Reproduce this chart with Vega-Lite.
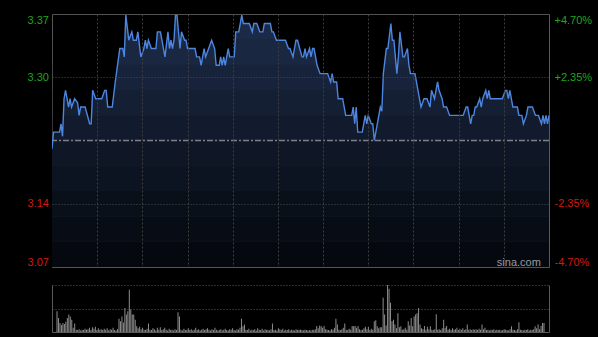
{
  "$schema": "https://vega.github.io/schema/vega-lite/v6.json",
  "background": "#000000",
  "padding": {"left": 26, "top": 13, "right": 5, "bottom": 5},
  "config": {
    "axis": {"labelFont": "Liberation Sans", "labelFontSize": 11},
    "text": {"font": "Liberation Sans"}
  },
  "datasets": {
    "price": [
      {"t":0,"p":3.21},{"t":1,"p":3.23},{"t":5,"p":3.23},{"t":6,"p":3.24},{"t":7,"p":3.225},{"t":8,"p":3.27},{"t":9,"p":3.28},{"t":11,"p":3.26},{"t":12,"p":3.27},{"t":13,"p":3.26},{"t":15,"p":3.27},{"t":17,"p":3.265},{"t":18,"p":3.25},{"t":19,"p":3.26},{"t":22,"p":3.26},{"t":25,"p":3.24},{"t":26,"p":3.24},{"t":27,"p":3.28},{"t":29,"p":3.27},{"t":33,"p":3.27},{"t":35,"p":3.28},{"t":36,"p":3.28},{"t":37,"p":3.26},{"t":40,"p":3.26},{"t":42,"p":3.29},{"t":45,"p":3.33},{"t":47,"p":3.33},{"t":48,"p":3.32},{"t":49,"p":3.37},{"t":51,"p":3.34},{"t":53,"p":3.35},{"t":54,"p":3.34},{"t":56,"p":3.34},{"t":57,"p":3.35},{"t":59,"p":3.32},{"t":61,"p":3.33},{"t":62,"p":3.34},{"t":63,"p":3.33},{"t":64,"p":3.34},{"t":66,"p":3.33},{"t":69,"p":3.33},{"t":70,"p":3.35},{"t":72,"p":3.35},{"t":75,"p":3.32},{"t":77,"p":3.35},{"t":78,"p":3.33},{"t":79,"p":3.34},{"t":80,"p":3.33},{"t":81,"p":3.34},{"t":82,"p":3.37},{"t":83,"p":3.37},{"t":85,"p":3.33},{"t":86,"p":3.35},{"t":88,"p":3.34},{"t":89,"p":3.34},{"t":90,"p":3.33},{"t":95,"p":3.33},{"t":96,"p":3.32},{"t":98,"p":3.32},{"t":99,"p":3.31},{"t":101,"p":3.33},{"t":102,"p":3.32},{"t":104,"p":3.33},{"t":106,"p":3.34},{"t":108,"p":3.33},{"t":109,"p":3.31},{"t":111,"p":3.31},{"t":112,"p":3.32},{"t":113,"p":3.31},{"t":114,"p":3.32},{"t":115,"p":3.31},{"t":117,"p":3.33},{"t":118,"p":3.32},{"t":121,"p":3.32},{"t":122,"p":3.35},{"t":124,"p":3.35},{"t":126,"p":3.37},{"t":127,"p":3.36},{"t":131,"p":3.36},{"t":133,"p":3.35},{"t":134,"p":3.36},{"t":136,"p":3.36},{"t":138,"p":3.35},{"t":140,"p":3.35},{"t":141,"p":3.36},{"t":145,"p":3.36},{"t":146,"p":3.35},{"t":147,"p":3.35},{"t":149,"p":3.34},{"t":155,"p":3.34},{"t":157,"p":3.33},{"t":158,"p":3.33},{"t":160,"p":3.32},{"t":162,"p":3.34},{"t":163,"p":3.34},{"t":166,"p":3.32},{"t":167,"p":3.32},{"t":168,"p":3.33},{"t":169,"p":3.32},{"t":171,"p":3.33},{"t":172,"p":3.32},{"t":173,"p":3.33},{"t":174,"p":3.33},{"t":176,"p":3.31},{"t":178,"p":3.30},{"t":183,"p":3.30},{"t":185,"p":3.29},{"t":186,"p":3.30},{"t":187,"p":3.29},{"t":189,"p":3.29},{"t":190,"p":3.27},{"t":193,"p":3.27},{"t":195,"p":3.25},{"t":199,"p":3.25},{"t":200,"p":3.26},{"t":201,"p":3.24},{"t":202,"p":3.26},{"t":203,"p":3.23},{"t":206,"p":3.23},{"t":208,"p":3.25},{"t":209,"p":3.24},{"t":210,"p":3.25},{"t":212,"p":3.24},{"t":213,"p":3.24},{"t":214,"p":3.22},{"t":216,"p":3.24},{"t":218,"p":3.26},{"t":219,"p":3.255},{"t":220,"p":3.30},{"t":222,"p":3.33},{"t":223,"p":3.33},{"t":225,"p":3.36},{"t":226,"p":3.34},{"t":227,"p":3.34},{"t":229,"p":3.30},{"t":230,"p":3.32},{"t":231,"p":3.35},{"t":233,"p":3.32},{"t":234,"p":3.32},{"t":236,"p":3.33},{"t":237,"p":3.31},{"t":238,"p":3.30},{"t":241,"p":3.30},{"t":244,"p":3.27},{"t":245,"p":3.26},{"t":247,"p":3.27},{"t":249,"p":3.27},{"t":251,"p":3.26},{"t":252,"p":3.28},{"t":254,"p":3.27},{"t":256,"p":3.29},{"t":257,"p":3.28},{"t":259,"p":3.27},{"t":260,"p":3.26},{"t":262,"p":3.26},{"t":264,"p":3.25},{"t":273,"p":3.25},{"t":275,"p":3.26},{"t":276,"p":3.26},{"t":278,"p":3.24},{"t":279,"p":3.25},{"t":280,"p":3.25},{"t":281,"p":3.26},{"t":282,"p":3.26},{"t":284,"p":3.27},{"t":285,"p":3.26},{"t":286,"p":3.27},{"t":288,"p":3.28},{"t":289,"p":3.27},{"t":290,"p":3.28},{"t":291,"p":3.27},{"t":299,"p":3.27},{"t":301,"p":3.28},{"t":302,"p":3.28},{"t":303,"p":3.27},{"t":304,"p":3.28},{"t":306,"p":3.26},{"t":309,"p":3.26},{"t":310,"p":3.25},{"t":312,"p":3.25},{"t":313,"p":3.24},{"t":315,"p":3.25},{"t":316,"p":3.26},{"t":319,"p":3.26},{"t":321,"p":3.25},{"t":323,"p":3.25},{"t":325,"p":3.24},{"t":326,"p":3.25},{"t":327,"p":3.24},{"t":328,"p":3.25},{"t":329,"p":3.24},{"t":330,"p":3.25}
    ],
    "vol": [
      {"t":0,"v":44},{"t":1,"v":30},{"t":2,"v":19},{"t":3,"v":15},{"t":4,"v":19},{"t":5,"v":17},{"t":6,"v":22},{"t":7,"v":30},{"t":8,"v":37},{"t":9,"v":33},{"t":10,"v":26},{"t":11,"v":9},{"t":12,"v":18},{"t":13,"v":5},{"t":14,"v":4},{"t":15,"v":6},{"t":16,"v":3},{"t":17,"v":5},{"t":18,"v":4},{"t":19,"v":7},{"t":20,"v":5},{"t":21,"v":6},{"t":22,"v":9},{"t":23,"v":4},{"t":24,"v":10},{"t":25,"v":7},{"t":26,"v":11},{"t":27,"v":4},{"t":28,"v":8},{"t":29,"v":5},{"t":30,"v":6},{"t":31,"v":4},{"t":32,"v":7},{"t":33,"v":5},{"t":34,"v":8},{"t":35,"v":3},{"t":36,"v":6},{"t":37,"v":5},{"t":38,"v":9},{"t":39,"v":4},{"t":40,"v":3},{"t":41,"v":6},{"t":42,"v":28},{"t":43,"v":23},{"t":44,"v":33},{"t":45,"v":20},{"t":46,"v":51},{"t":47,"v":37},{"t":48,"v":44},{"t":49,"v":90},{"t":50,"v":48},{"t":51,"v":37},{"t":52,"v":37},{"t":53,"v":26},{"t":54,"v":12},{"t":55,"v":8},{"t":56,"v":11},{"t":57,"v":6},{"t":58,"v":9},{"t":59,"v":5},{"t":60,"v":4},{"t":61,"v":7},{"t":62,"v":18},{"t":63,"v":5},{"t":64,"v":4},{"t":65,"v":8},{"t":66,"v":6},{"t":67,"v":3},{"t":68,"v":9},{"t":69,"v":5},{"t":70,"v":10},{"t":71,"v":4},{"t":72,"v":6},{"t":73,"v":9},{"t":74,"v":5},{"t":75,"v":3},{"t":76,"v":7},{"t":77,"v":4},{"t":78,"v":5},{"t":79,"v":3},{"t":80,"v":6},{"t":81,"v":4},{"t":82,"v":42},{"t":83,"v":33},{"t":84,"v":5},{"t":85,"v":3},{"t":86,"v":7},{"t":87,"v":4},{"t":88,"v":5},{"t":89,"v":8},{"t":90,"v":4},{"t":91,"v":6},{"t":92,"v":3},{"t":93,"v":5},{"t":94,"v":9},{"t":95,"v":4},{"t":96,"v":6},{"t":97,"v":3},{"t":98,"v":5},{"t":99,"v":7},{"t":100,"v":4},{"t":101,"v":6},{"t":102,"v":8},{"t":103,"v":5},{"t":104,"v":3},{"t":105,"v":6},{"t":106,"v":4},{"t":107,"v":9},{"t":108,"v":5},{"t":109,"v":3},{"t":110,"v":4},{"t":111,"v":6},{"t":112,"v":3},{"t":113,"v":5},{"t":114,"v":7},{"t":115,"v":4},{"t":116,"v":3},{"t":117,"v":6},{"t":118,"v":5},{"t":119,"v":8},{"t":120,"v":4},{"t":121,"v":3},{"t":122,"v":6},{"t":123,"v":5},{"t":124,"v":9},{"t":125,"v":28},{"t":126,"v":12},{"t":127,"v":16},{"t":128,"v":5},{"t":129,"v":4},{"t":130,"v":7},{"t":131,"v":3},{"t":132,"v":5},{"t":133,"v":4},{"t":134,"v":6},{"t":135,"v":3},{"t":136,"v":8},{"t":137,"v":5},{"t":138,"v":4},{"t":139,"v":7},{"t":140,"v":3},{"t":141,"v":6},{"t":142,"v":4},{"t":143,"v":5},{"t":144,"v":3},{"t":145,"v":6},{"t":146,"v":18},{"t":147,"v":4},{"t":148,"v":5},{"t":149,"v":3},{"t":150,"v":8},{"t":151,"v":6},{"t":152,"v":4},{"t":153,"v":7},{"t":154,"v":3},{"t":155,"v":5},{"t":156,"v":4},{"t":157,"v":6},{"t":158,"v":3},{"t":159,"v":5},{"t":160,"v":4},{"t":161,"v":3},{"t":162,"v":6},{"t":163,"v":4},{"t":164,"v":5},{"t":165,"v":5},{"t":166,"v":4},{"t":167,"v":3},{"t":168,"v":5},{"t":169,"v":4},{"t":170,"v":3},{"t":171,"v":4},{"t":172,"v":3},{"t":173,"v":5},{"t":174,"v":4},{"t":175,"v":6},{"t":176,"v":13},{"t":177,"v":8},{"t":178,"v":14},{"t":179,"v":12},{"t":180,"v":9},{"t":181,"v":13},{"t":182,"v":6},{"t":183,"v":5},{"t":184,"v":4},{"t":185,"v":3},{"t":186,"v":6},{"t":187,"v":5},{"t":188,"v":9},{"t":189,"v":28},{"t":190,"v":16},{"t":191,"v":5},{"t":192,"v":4},{"t":193,"v":6},{"t":194,"v":9},{"t":195,"v":18},{"t":196,"v":5},{"t":197,"v":4},{"t":198,"v":7},{"t":199,"v":5},{"t":200,"v":13},{"t":201,"v":12},{"t":202,"v":13},{"t":203,"v":9},{"t":204,"v":13},{"t":205,"v":6},{"t":206,"v":4},{"t":207,"v":5},{"t":208,"v":8},{"t":209,"v":11},{"t":210,"v":6},{"t":211,"v":11},{"t":212,"v":4},{"t":213,"v":7},{"t":214,"v":5},{"t":215,"v":23},{"t":216,"v":25},{"t":217,"v":12},{"t":218,"v":8},{"t":219,"v":10},{"t":220,"v":10},{"t":221,"v":73},{"t":222,"v":37},{"t":223,"v":14},{"t":224,"v":100},{"t":225,"v":92},{"t":226,"v":62},{"t":227,"v":23},{"t":228,"v":26},{"t":229,"v":16},{"t":230,"v":8},{"t":231,"v":40},{"t":232,"v":10},{"t":233,"v":12},{"t":234,"v":5},{"t":235,"v":6},{"t":236,"v":9},{"t":237,"v":5},{"t":238,"v":23},{"t":239,"v":14},{"t":240,"v":30},{"t":241,"v":12},{"t":242,"v":33},{"t":243,"v":37},{"t":244,"v":40},{"t":245,"v":51},{"t":246,"v":16},{"t":247,"v":8},{"t":248,"v":6},{"t":249,"v":13},{"t":250,"v":5},{"t":251,"v":11},{"t":252,"v":6},{"t":253,"v":12},{"t":254,"v":5},{"t":255,"v":4},{"t":256,"v":6},{"t":257,"v":38},{"t":258,"v":5},{"t":259,"v":6},{"t":260,"v":4},{"t":261,"v":8},{"t":262,"v":26},{"t":263,"v":9},{"t":264,"v":13},{"t":265,"v":5},{"t":266,"v":7},{"t":267,"v":4},{"t":268,"v":8},{"t":269,"v":5},{"t":270,"v":6},{"t":271,"v":9},{"t":272,"v":4},{"t":273,"v":7},{"t":274,"v":5},{"t":275,"v":8},{"t":276,"v":4},{"t":277,"v":6},{"t":278,"v":16},{"t":279,"v":5},{"t":280,"v":6},{"t":281,"v":4},{"t":282,"v":6},{"t":283,"v":5},{"t":284,"v":6},{"t":285,"v":4},{"t":286,"v":7},{"t":287,"v":5},{"t":288,"v":16},{"t":289,"v":6},{"t":290,"v":9},{"t":291,"v":4},{"t":292,"v":5},{"t":293,"v":3},{"t":294,"v":5},{"t":295,"v":4},{"t":296,"v":6},{"t":297,"v":3},{"t":298,"v":5},{"t":299,"v":4},{"t":300,"v":5},{"t":301,"v":3},{"t":302,"v":4},{"t":303,"v":6},{"t":304,"v":5},{"t":305,"v":4},{"t":306,"v":3},{"t":307,"v":6},{"t":308,"v":12},{"t":309,"v":5},{"t":310,"v":4},{"t":311,"v":3},{"t":312,"v":6},{"t":313,"v":21},{"t":314,"v":5},{"t":315,"v":4},{"t":316,"v":3},{"t":317,"v":5},{"t":318,"v":4},{"t":319,"v":6},{"t":320,"v":3},{"t":321,"v":5},{"t":322,"v":4},{"t":323,"v":6},{"t":324,"v":12},{"t":325,"v":8},{"t":326,"v":16},{"t":327,"v":6},{"t":328,"v":13},{"t":329,"v":19},{"t":330,"v":19}
    ],
    "ref": [{"pc": 3.22}],
    "brand": [{"label": "sina.com"}],
    "shade": [{"one": 1}]
  },
  "spacing": 16,
  "vconcat": [
    {
      "width": 497,
      "height": 253,
      "view": {"stroke": "#5a5a5a", "strokeWidth": 1},
      "resolve": {"axis": {"y": "independent"}},
      "layer": [
        {
          "data": {"name": "price"},
          "mark": {"type": "area", "clip": true, "fill": "#1d2d4a", "fillOpacity": 1},
          "encoding": {
            "x": {
              "field": "t", "type": "quantitative",
              "scale": {"domain": [0, 330], "nice": false, "zero": false},
              "axis": {
                "title": null, "labels": false, "ticks": false, "domain": false,
                "values": [30, 60, 90, 120, 150, 180, 210, 240, 270, 300],
                "grid": true, "gridColor": "#3e3e3e", "gridDash": [2, 2], "zindex": 1
              }
            },
            "y": {
              "field": "p", "type": "quantitative",
              "scale": {"domain": [3.06866, 3.37134], "nice": false, "zero": false},
              "axis": {
                "title": null, "orient": "left", "format": ".2f",
                "values": [3.06866, 3.14433, 3.29567, 3.37134],
                "ticks": false, "domain": false, "labelPadding": 3.5,
                "labelFlush": true,
                "labelColor": {"condition": {"test": "datum.value > 3.22", "value": "#1fa51f"}, "value": "#d01b10"},
                "grid": true, "gridColor": "#4a4a4a", "gridDash": [1, 2], "zindex": 1
              }
            }
          }
        },
        {"data": {"name": "shade"}, "mark": {"type": "rect", "color": "#000000", "opacity": 0.04}, "encoding": {"x": {"datum": 0, "type": "quantitative"}, "x2": {"datum": 330}, "y": {"datum": 3.37134, "type": "quantitative", "axis": null}, "y2": {"datum": 3.34107}}},
        {"data": {"name": "shade"}, "mark": {"type": "rect", "color": "#000000", "opacity": 0.13}, "encoding": {"x": {"datum": 0, "type": "quantitative"}, "x2": {"datum": 330}, "y": {"datum": 3.34107, "type": "quantitative", "axis": null}, "y2": {"datum": 3.31081}}},
        {"data": {"name": "shade"}, "mark": {"type": "rect", "color": "#000000", "opacity": 0.21}, "encoding": {"x": {"datum": 0, "type": "quantitative"}, "x2": {"datum": 330}, "y": {"datum": 3.31081, "type": "quantitative", "axis": null}, "y2": {"datum": 3.28054}}},
        {"data": {"name": "shade"}, "mark": {"type": "rect", "color": "#000000", "opacity": 0.30}, "encoding": {"x": {"datum": 0, "type": "quantitative"}, "x2": {"datum": 330}, "y": {"datum": 3.28054, "type": "quantitative", "axis": null}, "y2": {"datum": 3.25028}}},
        {"data": {"name": "shade"}, "mark": {"type": "rect", "color": "#000000", "opacity": 0.38}, "encoding": {"x": {"datum": 0, "type": "quantitative"}, "x2": {"datum": 330}, "y": {"datum": 3.25028, "type": "quantitative", "axis": null}, "y2": {"datum": 3.22}}},
        {"data": {"name": "shade"}, "mark": {"type": "rect", "color": "#000000", "opacity": 0.47}, "encoding": {"x": {"datum": 0, "type": "quantitative"}, "x2": {"datum": 330}, "y": {"datum": 3.22, "type": "quantitative", "axis": null}, "y2": {"datum": 3.18973}}},
        {"data": {"name": "shade"}, "mark": {"type": "rect", "color": "#000000", "opacity": 0.55}, "encoding": {"x": {"datum": 0, "type": "quantitative"}, "x2": {"datum": 330}, "y": {"datum": 3.18973, "type": "quantitative", "axis": null}, "y2": {"datum": 3.15946}}},
        {"data": {"name": "shade"}, "mark": {"type": "rect", "color": "#000000", "opacity": 0.64}, "encoding": {"x": {"datum": 0, "type": "quantitative"}, "x2": {"datum": 330}, "y": {"datum": 3.15946, "type": "quantitative", "axis": null}, "y2": {"datum": 3.1292}}},
        {"data": {"name": "shade"}, "mark": {"type": "rect", "color": "#000000", "opacity": 0.72}, "encoding": {"x": {"datum": 0, "type": "quantitative"}, "x2": {"datum": 330}, "y": {"datum": 3.1292, "type": "quantitative", "axis": null}, "y2": {"datum": 3.09893}}},
        {"data": {"name": "shade"}, "mark": {"type": "rect", "color": "#000000", "opacity": 0.80}, "encoding": {"x": {"datum": 0, "type": "quantitative"}, "x2": {"datum": 330}, "y": {"datum": 3.09893, "type": "quantitative", "axis": null}, "y2": {"datum": 3.06866}}},
        {
          "data": {"name": "ref"},
          "mark": {"type": "rule", "color": "#7d8088", "strokeWidth": 1.3, "strokeDash": [6, 2, 2, 2]},
          "encoding": {"y": {"field": "pc", "type": "quantitative", "axis": null}}
        },
        {
          "data": {"name": "price"},
          "mark": {"type": "line", "color": "#4d86e0", "strokeWidth": 1.4, "clip": true},
          "encoding": {
            "x": {"field": "t", "type": "quantitative"},
            "y": {
              "field": "p", "type": "quantitative",
              "axis": {
                "title": null, "orient": "right",
                "values": [3.06866, 3.14433, 3.29567, 3.37134],
                "labelExpr": "(datum.value > 3.22 ? '+' : '-') + format(abs(datum.value / 3.22 - 1) * 100, '.2f') + '%'",
                "ticks": false, "domain": false, "grid": false, "labelPadding": 5,
                "labelFlush": true,
                "labelColor": {"condition": {"test": "datum.value > 3.22", "value": "#1fa51f"}, "value": "#d01b10"}
              }
            }
          }
        },
        {
          "data": {"name": "brand"},
          "mark": {"type": "text", "color": "#9a9a9a", "fontSize": 11, "align": "center", "baseline": "middle"},
          "encoding": {
            "text": {"field": "label", "type": "nominal"},
            "x": {"datum": 310, "type": "quantitative"},
            "y": {"datum": 3.0735, "type": "quantitative", "axis": null}
          }
        }
      ]
    },
    {
      "width": 497,
      "height": 47,
      "view": {"stroke": null},
      "resolve": {"axis": {"y": "independent"}},
      "data": {"name": "vol"},
      "layer": [
        {
          "mark": {"type": "bar", "size": 1, "color": "#8e8e8e"},
          "encoding": {
            "x": {
              "field": "t", "type": "quantitative",
              "scale": {"domain": [0, 330], "nice": false, "zero": false},
              "axis": {"title": null, "labels": false, "ticks": false, "grid": false, "domain": true, "domainColor": "#5a5a5a"}
            },
            "y": {
              "field": "v", "type": "quantitative",
              "scale": {"domain": [0, 100], "nice": false},
              "axis": {
                "title": null, "labels": false, "ticks": false, "domain": true, "domainColor": "#5a5a5a",
                "values": [50, 100], "grid": true, "gridColor": "#5a5a5a", "gridDash": [1, 2]
              }
            }
          }
        },
        {
          "mark": {"type": "bar", "size": 1, "opacity": 0},
          "encoding": {
            "x": {"field": "t", "type": "quantitative"},
            "y": {
              "field": "v", "type": "quantitative",
              "axis": {"title": null, "orient": "right", "labels": false, "ticks": false, "grid": false, "domain": true, "domainColor": "#5a5a5a"}
            }
          }
        }
      ]
    }
  ]
}
